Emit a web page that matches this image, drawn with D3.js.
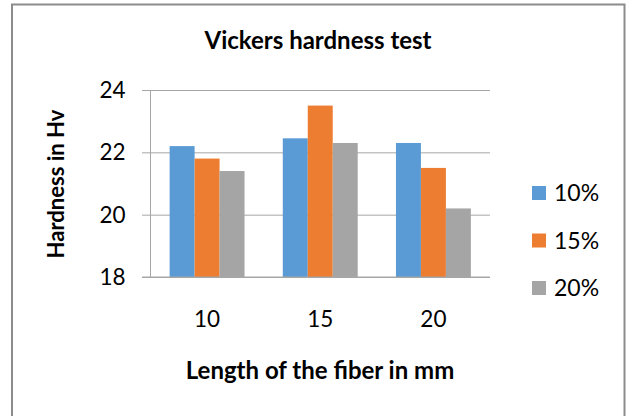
<!DOCTYPE html>
<html>
<head>
<meta charset="utf-8">
<style>
  body { margin: 0; background: #fff; }
  svg text { font-family: Lato, "Open Sans", sans-serif; fill: #000; }
</style>
<script src="https://d3js.org/d3.v7.min.js"></script>
</head>
<body>
<svg id="chart" width="628" height="416"></svg>
<script>
  // data
  var categories = ["10", "15", "20"]
  var seriesNames = ["10%", "15%", "20%"]
  var values10 = [22.2, 22.45, 22.3]
  var values15 = [21.8, 23.5, 21.5]
  var values20 = [21.4, 22.3, 20.2]
  var yTicks = [18, 20, 22, 24]
  var colors = ["#5B9BD5", "#ED7D31", "#A5A5A5"]

  var series = [values10, values15, values20]

  var svg = d3.select("#chart")
  var margin = {top: 90, left: 150.5, right: 138, bottom: 139}
  var width = 628 - margin.left - margin.right
  var height = 416 - margin.top - margin.bottom

  // outer frame
  svg.append("rect")
    .attr("x", 12).attr("y", 4.5)
    .attr("width", 612.5).attr("height", 430)
    .attr("fill", "#fff")
    .attr("stroke", "#8c8c8c")
    .attr("stroke-width", 2)

  var g = svg.append("g").attr("transform", "translate(" + margin.left + "," + margin.top + ")")

  // scales
  var x = d3.scaleBand().domain(categories).range([0, width]).paddingInner(0.338).paddingOuter(0.169)
  var x1 = d3.scaleBand().domain(d3.range(seriesNames.length)).range([0, x.bandwidth()])
  var y = d3.scaleLinear().domain([18, 24]).range([height, 0])

  // gridlines + left ticks
  g.append("g")
    .call(d3.axisLeft(y).tickValues(yTicks).tickSize(-width).tickFormat(""))
    .call(a => a.select(".domain").remove())
    .call(a => a.selectAll("line").attr("stroke", "#a6a6a6").attr("x1", -8.5))

  // bars
  series.forEach((vals, si) => {
    g.append("g").selectAll("rect")
      .data(vals)
      .enter()
      .append("rect")
      .attr("x", (d, i) => x(categories[i]) + x1(si))
      .attr("y", d => y(d))
      .attr("width", x1.bandwidth())
      .attr("height", d => y(18) - y(d))
      .attr("fill", colors[si])
  })

  // vertical axis line
  g.append("line")
    .attr("x1", 0).attr("x2", 0).attr("y1", 0).attr("y2", height)
    .attr("stroke", "#a6a6a6")
  // baseline
  g.append("line")
    .attr("x1", -8.5).attr("x2", width).attr("y1", height).attr("y2", height)
    .attr("stroke", "#a6a6a6")

  // y tick labels
  g.selectAll(".ylab")
    .data(yTicks)
    .enter()
    .append("text")
    .attr("x", -25)
    .attr("y", d => y(d))
    .attr("dy", "0.35em")
    .style("text-anchor", "end")
    .style("font-size", "22.5px")
    .text(d => d)

  // x tick labels
  g.selectAll(".xlab")
    .data(categories)
    .enter()
    .append("text")
    .attr("x", d => x(d) + x.bandwidth() / 2)
    .attr("y", height + 50)
    .style("text-anchor", "middle")
    .style("font-size", "22.5px")
    .text(d => d)

  // title
  svg.append("text")
    .attr("x", 318).attr("y", 49)
    .style("text-anchor", "middle")
    .style("font-size", "24px")
    .style("font-weight", "bold")
    .text("Vickers hardness test")

  // axis titles
  svg.append("text")
    .attr("x", 320).attr("y", 379)
    .style("text-anchor", "middle")
    .style("font-size", "24px")
    .style("font-weight", "bold")
    .text("Length of the fiber in mm")

  svg.append("text")
    .attr("transform", "translate(64,184) rotate(-90)")
    .style("text-anchor", "middle")
    .style("font-size", "22px")
    .style("font-weight", "bold")
    .text("Hardness in Hv")

  // legend
  var legend = svg.append("g").attr("transform", "translate(532,186)")
  seriesNames.forEach((name, i) => {
    var row = legend.append("g").attr("transform", "translate(0," + (i * 47.5) + ")")
    row.append("rect").attr("width", 14).attr("height", 14).attr("fill", colors[i])
    row.append("text")
      .attr("x", 22).attr("y", 7).attr("dy", "0.35em")
      .style("font-size", "23px")
      .text(name)
  })
</script>
</body>
</html>
